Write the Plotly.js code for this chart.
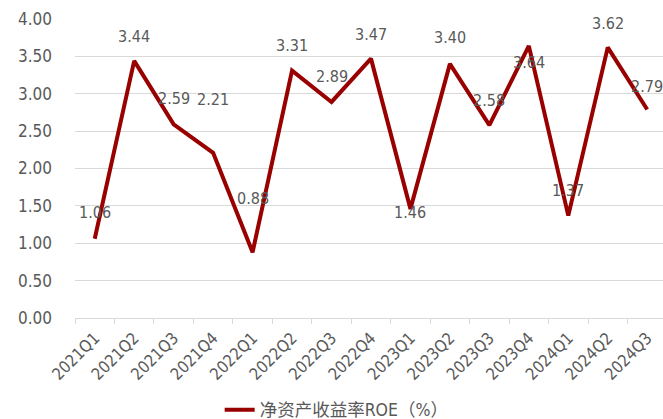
<!DOCTYPE html>
<html>
<head>
<meta charset="utf-8">
<script src="https://cdn.plot.ly/plotly-3.0.1.min.js"></script>
<style>html,body{margin:0;padding:0;background:#fff;}#chart{width:663px;height:419px;}</style>
</head>
<body>
<div id="chart"></div>
<script>
const quarters = ["2021Q1","2021Q2","2021Q3","2021Q4","2022Q1","2022Q2","2022Q3","2022Q4","2023Q1","2023Q2","2023Q3","2023Q4","2024Q1","2024Q2","2024Q3"];
const roe = [1.06, 3.44, 2.59, 2.21, 0.88, 3.31, 2.89, 3.47, 1.46, 3.40, 2.58, 3.64, 1.37, 3.62, 2.79];
const seriesName = "净资产收益率ROE（%）";

const FONT = "'Liberation Sans Narrow', 'DejaVu Sans Condensed', 'Noto Sans CJK SC', sans-serif";
const GREY = "#595959";
// label vertical offsets (px), to mimic the reference placement
const labelShift = [26, 24, 26, 53, 54, 25, 25, 24, -4, 26, 25, -17, 25, 24, 23];

const annotations = roe.map((v, i) => ({
  x: quarters[i], y: v, xref: "x", yref: "y",
  text: v.toFixed(2), showarrow: false, yshift: labelShift[i],
  font: {family: FONT, size: 16, color: GREY}
}));

const trace = {
  x: quarters, y: roe, type: "scatter", mode: "lines", name: seriesName,
  line: {color: "#990000", width: 4}
};

const layout = {
  width: 663, height: 419,
  margin: {l: 75, r: 0, t: 19, b: 101},
  paper_bgcolor: "#fff", plot_bgcolor: "#fff",
  font: {family: FONT, color: GREY, size: 15},
  xaxis: {
    type: "category", range: [-0.5, 14.4], automargin: false,
    showgrid: false, showline: true, linecolor: "#d9d9d9", linewidth: 1,
    ticks: "outside", tickson: "boundaries", ticklen: 5, tickcolor: "#d9d9d9",
    tickangle: -45, ticklabelstandoff: 3,
    tickfont: {family: FONT, size: 16.5, color: GREY}
  },
  yaxis: {
    range: [0, 4], dtick: 0.5, tickformat: ".2f", automargin: false,
    showgrid: true, gridcolor: "#d9d9d9", gridwidth: 1,
    zeroline: false, showline: false, ticks: "",
    ticklabelstandoff: 22,
    tickfont: {family: FONT, size: 17, color: GREY}
  },
  showlegend: true,
  legend: {
    orientation: "h", x: 0.445, xanchor: "center",
    yref: "container", y: 0.022, yanchor: "middle",
    font: {family: FONT, size: 17.5, color: GREY}
  },
  annotations: annotations
};

Plotly.newPlot("chart", [trace], layout, {displayModeBar: false, staticPlot: true});
</script>
</body>
</html>
